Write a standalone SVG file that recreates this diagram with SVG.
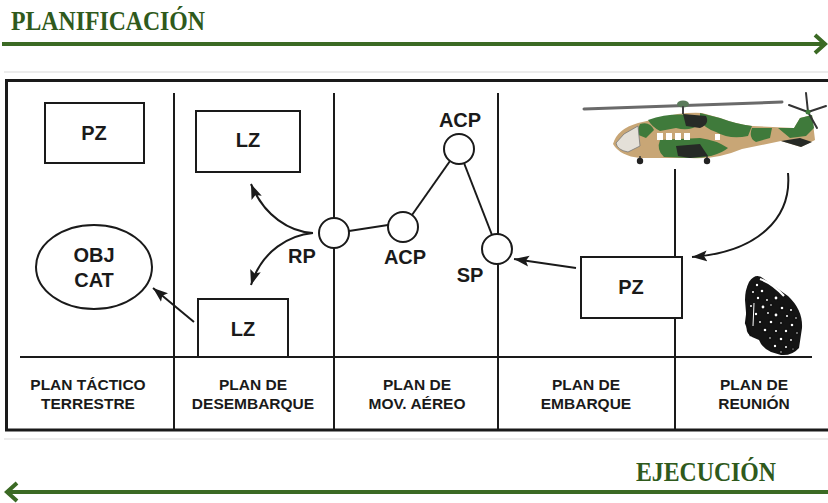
<svg xmlns="http://www.w3.org/2000/svg" width="828" height="503" viewBox="0 0 828 503">
  <style>
    .phase { font-family: "Liberation Serif", "Times New Roman", serif; font-weight: bold; fill: #2f5a1c; }
    .garrow { stroke: #3b6a24; stroke-width: 4; fill: none; }
    .frame { stroke: #1a1a1a; stroke-width: 3; fill: none; }
    .div { stroke: #1a1a1a; stroke-width: 2; fill: none; }
    .box { stroke: #1a1a1a; stroke-width: 2; fill: #ffffff; }
    .node { stroke: #1a1a1a; stroke-width: 2; fill: #ffffff; }
    .lbl { font-family: "Liberation Sans", Arial, sans-serif; font-weight: bold; font-size: 20px; fill: #1a1a1a; text-anchor: middle; }
    .plan { font-family: "Liberation Sans", Arial, sans-serif; font-weight: bold; font-size: 15.5px; fill: #1a1a1a; text-anchor: middle; }
    .link { stroke: #1a1a1a; stroke-width: 2; fill: none; }
    .arr { stroke: #1a1a1a; stroke-width: 2; fill: none; marker-end: url(#head); }
    .head { fill: #ffffff; stroke: #111111; stroke-width: 1.6; }
  </style>
  <defs>
    <marker id="head" markerUnits="userSpaceOnUse" markerWidth="16" markerHeight="12" refX="15" refY="6" orient="auto">
      <path d="M0,0.5 L15,6 L0,11.5 L3,6 Z" fill="#1a1a1a"/>
    </marker>
  </defs>

  <rect width="828" height="503" fill="#ffffff"/>

  <!-- phase arrows -->
  <g id="planificacion">
    <text class="phase" x="11" y="30" font-size="28" textLength="194" lengthAdjust="spacingAndGlyphs">PLANIFICACIÓN</text>
    <line class="garrow" x1="2" y1="44" x2="824" y2="44"/>
    <polyline class="garrow" points="815,35 825,44 815,53"/>
  </g>
  <g id="ejecucion">
    <text class="phase" x="636" y="481" font-size="28" textLength="140" lengthAdjust="spacingAndGlyphs">EJECUCIÓN</text>
    <line class="garrow" x1="828" y1="492" x2="8" y2="492"/>
    <polyline class="garrow" points="17,483 7,492 17,501"/>
  </g>

  <!-- table frame -->
  <g id="frame">
    <line x1="4" y1="72" x2="828" y2="72" stroke="#e6e6e6" stroke-width="1.5"/>
    <line x1="4" y1="439" x2="828" y2="439" stroke="#e6e6e6" stroke-width="1.5"/>
    <polyline class="frame" points="828,80.5 6.5,80.5 6.5,430 828,430"/>
    <line class="div" x1="174" y1="93" x2="174" y2="430"/>
    <line class="div" x1="334" y1="93" x2="334" y2="430"/>
    <line class="div" x1="498" y1="93" x2="498" y2="430"/>
    <line class="div" x1="675" y1="169" x2="675" y2="430"/>
    <line class="div" x1="20" y1="357" x2="812" y2="357" stroke-width="2.5"/>
  </g>

  <!-- column captions -->
  <g id="captions">
    <text class="plan" x="88" y="390">PLAN TÁCTICO</text>
    <text class="plan" x="88" y="409">TERRESTRE</text>
    <text class="plan" x="253" y="390">PLAN DE</text>
    <text class="plan" x="253" y="409">DESEMBARQUE</text>
    <text class="plan" x="417" y="390">PLAN DE</text>
    <text class="plan" x="417" y="409">MOV. AÉREO</text>
    <text class="plan" x="586" y="390">PLAN DE</text>
    <text class="plan" x="586" y="409">EMBARQUE</text>
    <text class="plan" x="754" y="390">PLAN DE</text>
    <text class="plan" x="754" y="409">REUNIÓN</text>
  </g>

  <!-- connectors -->
  <g id="connectors">
    <line class="link" x1="349" y1="231" x2="388" y2="225"/>
    <line class="link" x1="412" y1="215" x2="450" y2="161"/>
    <line class="link" x1="464" y1="163" x2="492" y2="235"/>
    <path class="arr" d="M313,233 C290,232 264,216 251,184"/>
    <path class="arr" d="M313,233 C290,235 262,250 251,285"/>
    <path class="arr" d="M194,322 L153,288"/>
    <path class="arr" d="M576,268 L514,259"/>
    <path class="arr" d="M788,173 C792,218 758,252 692,257"/>
  </g>

  <!-- nodes -->
  <g id="pz-tactico">
    <rect class="box" x="45" y="103" width="99" height="60"/>
    <text class="lbl" x="94" y="140">PZ</text>
  </g>
  <g id="obj-cat">
    <ellipse class="box" cx="94" cy="267" rx="58" ry="42"/>
    <text class="lbl" x="94" y="262">OBJ</text>
    <text class="lbl" x="94" y="287">CAT</text>
  </g>
  <g id="lz-upper">
    <rect class="box" x="196" y="111" width="104" height="61"/>
    <text class="lbl" x="248" y="147">LZ</text>
  </g>
  <g id="lz-lower">
    <rect class="box" x="198" y="299" width="90" height="58"/>
    <text class="lbl" x="243" y="336">LZ</text>
  </g>
  <g id="rp">
    <circle class="node" cx="334" cy="233" r="15"/>
    <text class="lbl" x="302" y="263" font-size="19">RP</text>
  </g>
  <g id="acp-low">
    <circle class="node" cx="403" cy="227" r="15"/>
    <text class="lbl" x="405" y="264" font-size="19">ACP</text>
  </g>
  <g id="acp-high">
    <circle class="node" cx="459" cy="149" r="15"/>
    <text class="lbl" x="460" y="127" font-size="19">ACP</text>
  </g>
  <g id="sp">
    <circle class="node" cx="497" cy="249" r="15"/>
    <text class="lbl" x="470" y="282" font-size="19">SP</text>
  </g>
  <g id="pz-embarque">
    <rect class="box" x="581" y="257" width="101" height="61"/>
    <text class="lbl" x="631" y="294">PZ</text>
  </g>

  <!-- helicopter in camouflage -->
  <g id="helicopter">
    <line x1="584" y1="109" x2="782" y2="102" stroke="#6a6a6a" stroke-width="3" stroke-linecap="round"/>
    <path d="M613,144 Q617,129 638,123 L660,118 Q680,112 702,113 L720,118 Q736,124 752,126 L794,128 L800,118 L812,115 L815,140 L801,147 L781,141 L742,149 Q716,160 690,158 L640,158 Q620,156 613,144 Z" fill="#c8a676"/>
    <path d="M648,120 Q668,113 690,115 L700,124 Q690 132 676,128 L660,131 Q652 127 648,120 Z" fill="#3f7a3b"/>
    <path d="M700,113 L720,118 Q736,124 752,126 L748,136 Q730,140 716,132 Q704,128 700,120 Z" fill="#3f7a3b"/>
    <path d="M683,114 L706,116 Q710,124 700,128 L686,126 Z" fill="#272b27"/>
    <path d="M660,140 L700,138 Q716,140 728,148 Q716,158 690,158 L664,157 Q656,150 660,140 Z" fill="#3f7a3b"/>
    <path d="M676,146 L700,144 L708,156 L690,158 L678,156 Z" fill="#262a26"/>
    <path d="M752,128 L772,128 L770,138 L756,142 Q748,138 752,128 Z" fill="#3f7a3b"/>
    <path d="M778,128 L794,128 L800,118 L812,115 L814,128 L806,136 L790,138 Z" fill="#3f7a3b"/>
    <path d="M781,141 L801,147 L812,142 L800,138 Z" fill="#262a26"/>
    <path d="M640,124 Q650,121 654,130 L646,138 L636,134 Z" fill="#3f7a3b"/>
    <path d="M624,134 L638,126 L640,146 L628,152 Q617,150 616,143 Z" fill="#e4e0d8" stroke="#777" stroke-width="0.8"/>
    <g fill="#ffffff">
      <rect x="657" y="133" width="6" height="7"/>
      <rect x="666" y="133" width="6" height="7"/>
      <rect x="675" y="133" width="6" height="7"/>
      <rect x="684" y="133" width="6" height="7"/>
      <rect x="715" y="134" width="5" height="6"/>
    </g>
    <ellipse cx="683" cy="104" rx="6" ry="3.5" fill="#5a7a5a"/>
    <line x1="683" y1="106" x2="683" y2="114" stroke="#444" stroke-width="2"/>
    <line x1="640" y1="156" x2="640" y2="160" stroke="#333" stroke-width="1.5"/>
    <line x1="707" y1="156" x2="707" y2="160" stroke="#333" stroke-width="1.5"/>
    <circle cx="640" cy="161" r="3.2" fill="#222"/>
    <circle cx="707" cy="161" r="3.2" fill="#222"/>
    <g stroke="#333" stroke-width="2" stroke-linecap="round">
      <line x1="808" y1="112" x2="789" y2="105"/>
      <line x1="808" y1="112" x2="826" y2="106"/>
      <line x1="808" y1="112" x2="806" y2="93"/>
      <line x1="808" y1="112" x2="817" y2="128"/>
    </g>
    <circle cx="808" cy="112" r="2.5" fill="#3f7a3b"/>
  </g>

  <!-- troops assembling: a crowd of helmets -->
  <g id="troops">
    <path d="M749,282 Q756,272 764,279 L788,296 Q803,310 802,328 L799,348 Q792,356 781,355 L771,352 Q762,348 759,340 L752,337 Q745,333 747,325 L745,300 Q745,290 749,282 Z" fill="#141414"/>
    <path d="M760,279 Q772,283 784,296" stroke="#ffffff" stroke-width="2.2" fill="none"/>
    <g class="head">
      <circle cx="757" cy="285" r="2"/>
      <circle cx="753" cy="292" r="1.8"/><circle cx="762" cy="291" r="2.1"/>
      <circle cx="758" cy="298" r="2"/><circle cx="767" cy="300" r="1.7"/><circle cx="776" cy="298" r="2.2"/>
      <circle cx="751" cy="306" r="1.8"/><circle cx="763" cy="307" r="2.2"/><circle cx="771" cy="305" r="1.6"/><circle cx="782" cy="308" r="2.1"/><circle cx="791" cy="310" r="1.8"/>
      <circle cx="756" cy="314" r="2"/><circle cx="768" cy="313" r="1.7"/><circle cx="776" cy="315" r="2.2"/><circle cx="787" cy="316" r="1.8"/><circle cx="796" cy="318" r="1.6"/>
      <circle cx="760" cy="322" r="1.7"/><circle cx="771" cy="322" r="2.1"/><circle cx="781" cy="323" r="1.6"/><circle cx="792" cy="325" r="2.1"/>
      <circle cx="765" cy="330" r="2.1"/><circle cx="776" cy="331" r="1.8"/><circle cx="786" cy="331" r="2"/><circle cx="797" cy="333" r="1.5"/>
      <circle cx="770" cy="338" r="1.6"/><circle cx="781" cy="339" r="2.1"/><circle cx="791" cy="340" r="1.7"/>
      <circle cx="775" cy="346" r="2"/><circle cx="786" cy="347" r="1.8"/>
      <circle cx="781" cy="352" r="1.5"/><circle cx="793" cy="349" r="1.4"/>
    </g>
    <path d="M749,300 L746,323 L751,336" stroke="#111" stroke-width="2.2" fill="none"/>
    <path d="M754,303 L753,326" stroke="#ffffff" stroke-width="1" fill="none"/>
  </g>
</svg>
